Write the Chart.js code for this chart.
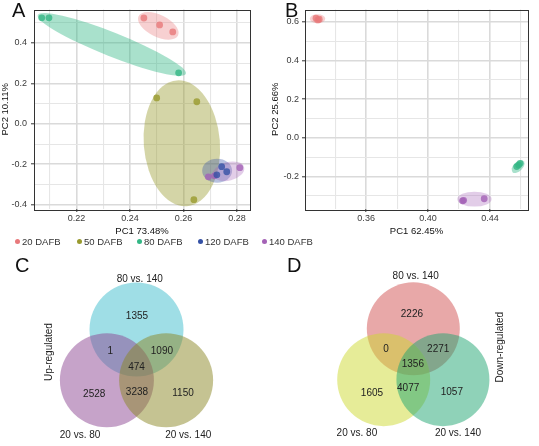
<!DOCTYPE html>
<html>
<head>
<meta charset="utf-8">
<script src="https://cdn.jsdelivr.net/npm/chart.js@4.4.0/dist/chart.umd.min.js"></script>
<style>
  html, body { margin: 0; padding: 0; background: #fff; }
  body { width: 539px; height: 446px; position: relative; overflow: hidden; font-family: "Liberation Sans", Arial, sans-serif; }
  canvas { position: absolute; }
  .panel-letter { position: absolute; font-size: 20px; line-height: 20px; color: #111; }
  .legend-item { position: absolute; top: 236px; white-space: nowrap; font-size: 9.5px; line-height: 12px; color: #333; }
  .legend-dot { display: inline-block; width: 5px; height: 5px; border-radius: 50%; margin-right: 2px; vertical-align: 1px; }
</style>
</head>
<body>
<canvas id="pca-a" width="268" height="240" style="left:0;top:0"></canvas>
<canvas id="pca-b" width="269" height="240" style="left:270px;top:0"></canvas>
<canvas id="venn-c" width="270" height="196" style="left:0;top:250px"></canvas>
<canvas id="venn-d" width="269" height="196" style="left:270px;top:250px"></canvas>
<div class="panel-letter" style="left:12px;top:0px">A</div>
<div class="panel-letter" style="left:285px;top:0px">B</div>
<div class="panel-letter" style="left:15px;top:255px">C</div>
<div class="panel-letter" style="left:287px;top:255px">D</div>
<div id="legend"></div>
<script>
const FONT_FAMILY = '"Liberation Sans", Arial, sans-serif';
Chart.defaults.font.family = FONT_FAMILY;

// ---- data ----
const DAFB_GROUPS = ['20 DAFB', '50 DAFB', '80 DAFB', '120 DAFB', '140 DAFB'];

// panel A scores (one inner array per group)
const PCA_A_PC1 = [
  [0.2452, 0.2511, 0.2560],
  [0.2500, 0.2650, 0.2639],
  [0.2070, 0.2097, 0.2582],
  [0.2743, 0.2762, 0.2725],
  [0.2811, 0.2716, 0.2693],
];
const PCA_A_PC2 = [
  [0.523, 0.489, 0.454],
  [0.128, 0.109, -0.375],
  [0.524, 0.524, 0.252],
  [-0.212, -0.237, -0.252],
  [-0.217, -0.257, -0.262],
];
// group ellipses: centre and two conjugate semi-axes, in PC units
const PCA_A_ELLIPSE_CENTER = [[0.2506, 0.484], [0.2594, -0.0963], [0.2332, 0.3926], [0.2726, -0.232], [0.2769, -0.2346]];
const PCA_A_ELLIPSE_AXIS1 = [[0.0074, -0.0474], [0.0019, -0.311], [0.0277, -0.1457], [0.0056, 0], [0.0058, 0.0198]];
const PCA_A_ELLIPSE_AXIS2 = [[-0.0018, -0.0489], [0.0142, 0.0148], [-0.0016, -0.0548], [0, -0.059], [0.0009, -0.0444]];
const PCA_A_X_TICKS = [0.22, 0.24, 0.26, 0.28];
const PCA_A_X_MINOR = [0.21, 0.23, 0.25, 0.27];
const PCA_A_Y_TICKS = [-0.4, -0.2, 0.0, 0.2, 0.4];
const PCA_A_Y_MINOR = [-0.3, -0.1, 0.1, 0.3, 0.5];

// panel B scores (50 and 120 DAFB not shown)
const PCA_B_PC1 = [
  [0.3276, 0.3297, 0.3288],
  [],
  [0.4573, 0.4595, 0.4585],
  [],
  [0.4223, 0.4363, 0.4230],
];
const PCA_B_PC2 = [
  [0.618, 0.613, 0.609],
  [],
  [-0.148, -0.131, -0.140],
  [],
  [-0.325, -0.314, -0.322],
];
const PCA_B_ELLIPSE_CENTER = [[0.3286, 0.615], null, [0.4582, -0.1484], null, [0.4300, -0.316]];
const PCA_B_ELLIPSE_AXIS1 = [[0.0050, 0], null, [0.0036, 0.0284], null, [0.0111, 0]];
const PCA_B_ELLIPSE_AXIS2 = [[0, -0.0232], null, [0.0021, -0.0165], null, [0, -0.0387]];
const PCA_B_X_TICKS = [0.36, 0.40, 0.44];
const PCA_B_X_MINOR = [0.34, 0.38, 0.42, 0.46];
const PCA_B_Y_TICKS = [-0.2, 0.0, 0.2, 0.4, 0.6];
const PCA_B_Y_MINOR = [-0.3, -0.1, 0.1, 0.3, 0.5];

// Venn counts, region order: top only, top+left, top+right, all three, left only, left+right, right only
const VENN_SETS = ['80 vs. 140', '20 vs. 80', '20 vs. 140'];
const UP_REGULATED_COUNTS = [1355, 1, 1090, 474, 2528, 3238, 1150];
const DOWN_REGULATED_COUNTS = [2226, 0, 2271, 1356, 1605, 4077, 1057];

// ---- styles / layout ----
const GROUP_COLORS = ['#E8797B', '#999A2E', '#33B785', '#3451A5', '#A462B6'];
const POINT_COLORS = ['rgba(232,121,123,0.8)', 'rgba(153,154,46,0.8)', 'rgba(51,183,133,0.8)', 'rgba(52,81,165,0.8)', 'rgba(164,98,182,0.8)'];
const ELLIPSE_COLORS = ['rgba(232,121,123,0.35)', 'rgba(153,154,46,0.42)', 'rgba(51,183,133,0.42)', 'rgba(52,81,165,0.35)', 'rgba(164,98,182,0.32)'];
const LEGEND_LEFT = [15, 77, 137, 198, 262];

const VENN_CIRCLES = [[0, 0.72], [-0.63, -0.36], [0.63, -0.36]];
const VENN_UP_COLORS = ['rgba(64,190,205,0.5)', 'rgba(141,71,147,0.5)', 'rgba(139,135,37,0.5)'];
const VENN_DOWN_COLORS = ['rgba(209,81,81,0.5)', 'rgba(205,217,49,0.5)', 'rgba(31,165,113,0.5)'];

// legend
const legendEl = document.getElementById('legend');
DAFB_GROUPS.forEach((name, i) => {
  const item = document.createElement('div');
  item.className = 'legend-item';
  item.style.left = LEGEND_LEFT[i] + 'px';
  item.innerHTML = `<span class="legend-dot" style="background:${GROUP_COLORS[i]}"></span>${name}`;
  legendEl.appendChild(item);
});

// ---- PCA panels ----
const ellipsePlugin = {
  id: 'groupEllipses',
  beforeDatasetsDraw(chart, args, opts) {
    const { ctx, scales: { x, y } } = chart;
    opts.centers.forEach((c, i) => {
      if (!c) return;
      const cx = x.getPixelForValue(c[0]);
      const cy = y.getPixelForValue(c[1]);
      const a = opts.axis1[i];
      const b = opts.axis2[i];
      const ax = x.getPixelForValue(c[0] + a[0]) - cx;
      const ay = y.getPixelForValue(c[1] + a[1]) - cy;
      const bx = x.getPixelForValue(c[0] + b[0]) - cx;
      const by = y.getPixelForValue(c[1] + b[1]) - cy;
      ctx.save();
      ctx.beginPath();
      ctx.transform(ax, ay, bx, by, cx, cy);
      ctx.arc(0, 0, 1, 0, Math.PI * 2);
      ctx.restore();
      ctx.save();
      ctx.fillStyle = opts.colors[i];
      ctx.fill();
      ctx.restore();
    });
  }
};

const framePlugin = {
  id: 'panelFrame',
  afterDatasetsDraw(chart) {
    const { ctx, chartArea: a } = chart;
    ctx.save();
    ctx.strokeStyle = '#333';
    ctx.lineWidth = 1;
    ctx.strokeRect(Math.round(a.left) + 0.5, Math.round(a.top) + 0.5, Math.round(a.right - a.left), Math.round(a.bottom - a.top));
    ctx.restore();
  }
};

function withMinorTicks(majors, minors) {
  return (scale) => {
    scale.ticks = majors.map(v => ({ value: v }))
      .concat(minors.map(v => ({ value: v, minor: true })))
      .sort((p, q) => p.value - q.value);
  };
}

function gridStyle() {
  return {
    color: ctx => ctx.tick && ctx.tick.minor ? '#E6E6E6' : '#DADADA',
    lineWidth: ctx => ctx.tick && ctx.tick.minor ? 1.1 : 1.6,
    tickColor: ctx => ctx.tick && ctx.tick.minor ? 'rgba(0,0,0,0)' : '#333',
    tickWidth: 1,
    tickLength: 3,
  };
}

function makePcaChart(canvasId, p) {
  const datasets = DAFB_GROUPS.map((name, i) => ({
    label: name,
    data: p.pc1[i].map((v, j) => ({ x: v, y: p.pc2[i][j] })),
    backgroundColor: POINT_COLORS[i],
    borderWidth: 0,
    pointRadius: 3.4,
  }));
  return new Chart(document.getElementById(canvasId), {
    type: 'scatter',
    data: { datasets },
    options: {
      responsive: false,
      animation: false,
      events: [],
      layout: { autoPadding: false, padding: { top: 9.5, right: p.padRight, left: 0, bottom: 0 } },
      plugins: {
        legend: { display: false },
        tooltip: { enabled: false },
        groupEllipses: { centers: p.centers, axis1: p.axis1, axis2: p.axis2, colors: ELLIPSE_COLORS },
      },
      scales: {
        x: {
          type: 'linear',
          min: p.xMin,
          max: p.xMax,
          afterBuildTicks: withMinorTicks(p.xTicks, p.xMinor),
          afterFit: s => { s.height = 31; },
          grid: gridStyle(),
          border: { display: false },
          ticks: {
            autoSkip: false,
            maxRotation: 0,
            padding: 1,
            color: '#3A3A3A',
            font: { size: 9 },
            callback: (v, i, ticks) => ticks[i].minor ? '' : v.toFixed(2),
          },
          title: { display: true, text: p.xTitle, color: '#111', font: { size: 9.5 }, padding: { top: 0, bottom: 3 } },
        },
        y: {
          type: 'linear',
          min: p.yMin,
          max: p.yMax,
          afterBuildTicks: withMinorTicks(p.yTicks, p.yMinor),
          afterFit: s => { s.width = p.yWidth; },
          grid: gridStyle(),
          border: { display: false },
          ticks: {
            autoSkip: false,
            padding: p.yPad,
            color: '#3A3A3A',
            font: { size: 9 },
            callback: (v, i, ticks) => ticks[i].minor ? '' : v.toFixed(1),
          },
          title: { display: true, text: p.yTitle, color: '#111', font: { size: 9.5 }, padding: { top: 0, bottom: 0 } },
        },
      },
    },
    plugins: [ellipsePlugin, framePlugin],
  });
}

makePcaChart('pca-a', {
  pc1: PCA_A_PC1, pc2: PCA_A_PC2,
  centers: PCA_A_ELLIPSE_CENTER, axis1: PCA_A_ELLIPSE_AXIS1, axis2: PCA_A_ELLIPSE_AXIS2,
  xTicks: PCA_A_X_TICKS, xMinor: PCA_A_X_MINOR, yTicks: PCA_A_Y_TICKS, yMinor: PCA_A_Y_MINOR,
  xMin: 0.2041, xMax: 0.2849, yMin: -0.421, yMax: 0.565,
  xTitle: 'PC1 73.48%', yTitle: 'PC2 10.11%',
  padRight: 18, yWidth: 34, yPad: 4,
});

makePcaChart('pca-b', {
  pc1: PCA_B_PC1, pc2: PCA_B_PC2,
  centers: PCA_B_ELLIPSE_CENTER, axis1: PCA_B_ELLIPSE_AXIS1, axis2: PCA_B_ELLIPSE_AXIS2,
  xTicks: PCA_B_X_TICKS, xMinor: PCA_B_X_MINOR, yTicks: PCA_B_Y_TICKS, yMinor: PCA_B_Y_MINOR,
  xMin: 0.3205, xMax: 0.4646, yMin: -0.367, yMax: 0.663,
  xTitle: 'PC1 62.45%', yTitle: 'PC2 25.66%',
  padRight: 11, yWidth: 35, yPad: 3,
});

// ---- Venn panels ----
const vennTextPlugin = {
  id: 'vennText',
  afterDatasetsDraw(chart, args, opts) {
    const { ctx, scales: { x, y } } = chart;
    ctx.save();
    ctx.textAlign = 'center';
    ctx.textBaseline = 'middle';
    ctx.fillStyle = '#222';
    ctx.font = `10px ${FONT_FAMILY}`;
    opts.counts.forEach((n, i) => {
      const pos = opts.regionPos[i];
      ctx.fillText(String(n), x.getPixelForValue(pos[0]), y.getPixelForValue(pos[1]));
    });
    VENN_SETS.forEach((name, i) => {
      const pos = opts.setPos[i];
      ctx.fillText(name, x.getPixelForValue(pos[0]), y.getPixelForValue(pos[1]));
    });
    ctx.translate(x.getPixelForValue(opts.titlePos[0]), y.getPixelForValue(opts.titlePos[1]));
    ctx.rotate(-Math.PI / 2);
    ctx.fillText(opts.title, 0, 0);
    ctx.restore();
  }
};

function makeVennChart(canvasId, v) {
  return new Chart(document.getElementById(canvasId), {
    type: 'bubble',
    data: {
      datasets: [{
        data: VENN_CIRCLES.map(c => ({ x: c[0], y: c[1], r: v.radius })),
        backgroundColor: v.colors,
        borderWidth: 0,
      }],
    },
    options: {
      responsive: false,
      animation: false,
      events: [],
      layout: { autoPadding: false, padding: 0 },
      plugins: {
        legend: { display: false },
        tooltip: { enabled: false },
        vennText: { counts: v.counts, regionPos: v.regionPos, setPos: v.setPos, title: v.title, titlePos: v.titlePos },
      },
      scales: {
        x: { type: 'linear', display: false, min: v.xMin, max: v.xMax },
        y: { type: 'linear', display: false, min: v.yMin, max: v.yMax },
      },
    },
    plugins: [vennTextPlugin],
  });
}

makeVennChart('venn-c', {
  counts: UP_REGULATED_COUNTS,
  colors: VENN_UP_COLORS,
  radius: 47,
  regionPos: [[0.01, 1.01], [-0.56, 0.26], [0.54, 0.26], [0, -0.08], [-0.90, -0.65], [0.01, -0.61], [0.99, -0.63]],
  setPos: [[0.07, 1.79], [-1.20, -1.53], [1.10, -1.53]],
  title: 'Up-regulated',
  titlePos: [-1.86, 0.24],
  xMin: -2.904, xMax: 2.840, yMin: -1.760, yMax: 2.411,
});

makeVennChart('venn-d', {
  counts: DOWN_REGULATED_COUNTS,
  colors: VENN_DOWN_COLORS,
  radius: 46.5,
  regionPos: [[-0.03, 1.04], [-0.58, 0.29], [0.53, 0.29], [-0.01, -0.03], [-0.88, -0.64], [-0.11, -0.54], [0.82, -0.62]],
  setPos: [[0.05, 1.84], [-1.20, -1.50], [0.95, -1.50]],
  title: 'Down-regulated',
  titlePos: [1.85, 0.33],
  xMin: -3.049, xMax: 2.674, yMin: -1.772, yMax: 2.398,
});
</script>
</body>
</html>
